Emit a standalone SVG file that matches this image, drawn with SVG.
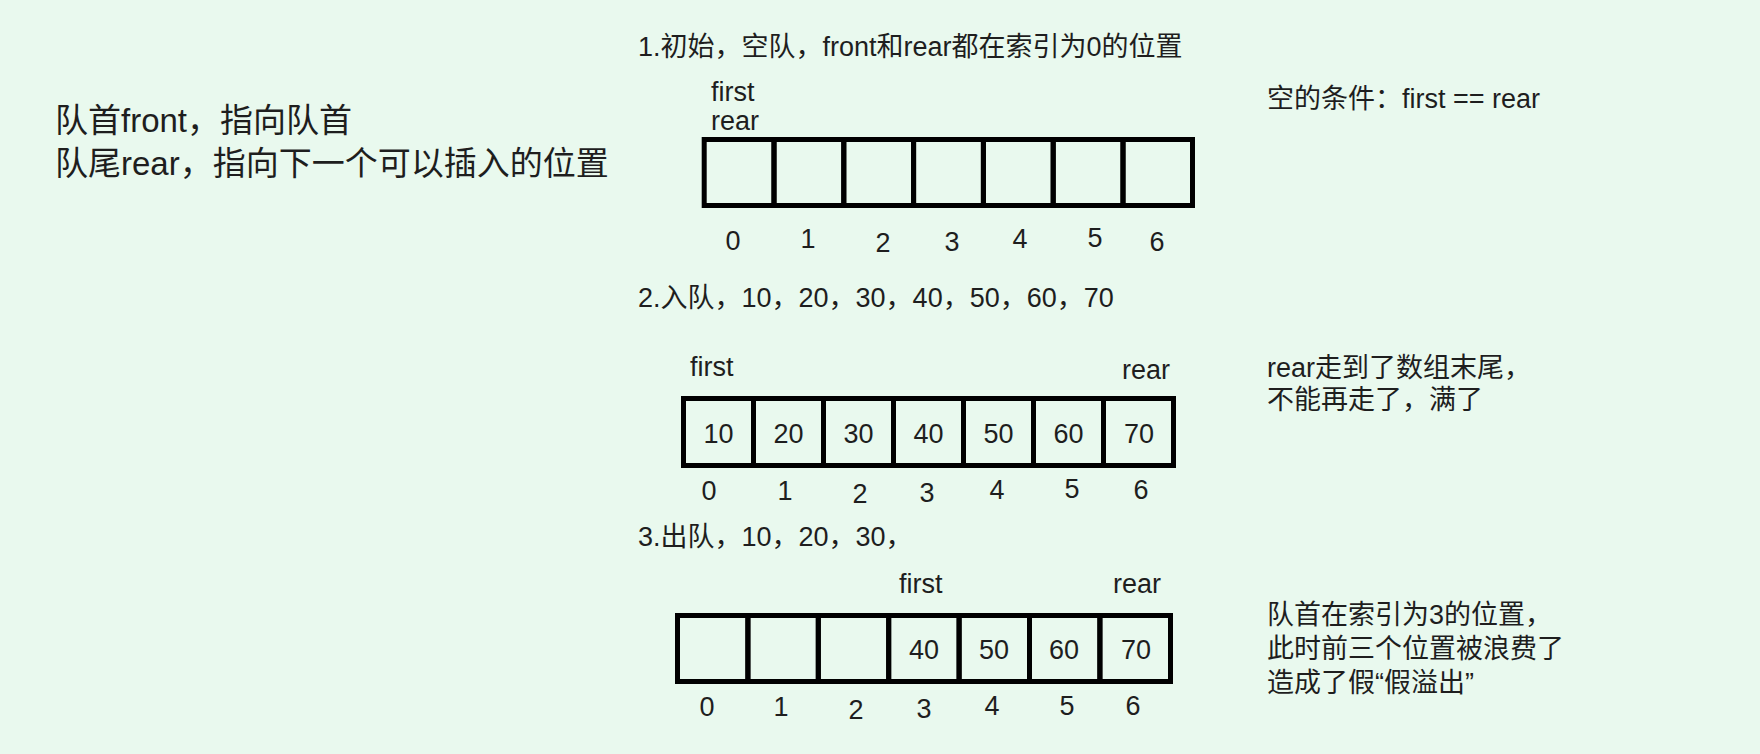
<svg xmlns="http://www.w3.org/2000/svg" width="1760" height="754" viewBox="0 0 1760 754">
<style>
text{font-family:"Liberation Sans","Noto Sans CJK SC",sans-serif;fill:#1e1e1e;font-size:27px}
.big{font-size:33px}
.mid{text-anchor:middle}
.cell{fill:none;stroke:#000;stroke-width:5;stroke-linejoin:miter}
</style>
<rect width="1760" height="754" fill="#e9f9ee"/>
<g id="intro">
<text class="big" x="55" y="132">队首front，指向队首</text>
<text class="big" x="55" y="175">队尾rear，指向下一个可以插入的位置</text>
</g>
<g id="step1">
<text x="638" y="56">1.初始，空队，front和rear都在索引为0的位置</text>
<text x="711" y="101">first</text>
<text x="711" y="130">rear</text>
<g id="queue1">
<rect class="cell" x="704.2" y="139.5" width="69.8" height="66"/>
<rect class="cell" x="774" y="139.5" width="69.8" height="66"/>
<rect class="cell" x="843.8" y="139.5" width="69.8" height="66"/>
<rect class="cell" x="913.6" y="139.5" width="69.8" height="66"/>
<rect class="cell" x="983.4" y="139.5" width="69.8" height="66"/>
<rect class="cell" x="1053.2" y="139.5" width="69.8" height="66"/>
<rect class="cell" x="1123" y="139.5" width="69.5" height="66"/>
</g>
<text class="mid" x="733" y="250">0</text>
<text class="mid" x="808" y="248">1</text>
<text class="mid" x="883" y="252">2</text>
<text class="mid" x="952" y="251">3</text>
<text class="mid" x="1020" y="248">4</text>
<text class="mid" x="1095" y="247">5</text>
<text class="mid" x="1157" y="251">6</text>
<text x="1267" y="108">空的条件：first == rear</text>
</g>
<g id="step2">
<text x="638" y="307">2.入队，10，20，30，40，50，60，70</text>
<text x="690" y="376">first</text>
<text x="1122" y="379">rear</text>
<g id="queue2">
<rect class="cell" x="683.5" y="398.5" width="70" height="67"/>
<rect class="cell" x="753.5" y="398.5" width="70" height="67"/>
<rect class="cell" x="823.5" y="398.5" width="70" height="67"/>
<rect class="cell" x="893.5" y="398.5" width="70" height="67"/>
<rect class="cell" x="963.5" y="398.5" width="70" height="67"/>
<rect class="cell" x="1033.5" y="398.5" width="70" height="67"/>
<rect class="cell" x="1103.5" y="398.5" width="70" height="67"/>
<text class="mid" x="718.5" y="443">10</text>
<text class="mid" x="788.5" y="443">20</text>
<text class="mid" x="858.5" y="443">30</text>
<text class="mid" x="928.5" y="443">40</text>
<text class="mid" x="998.5" y="443">50</text>
<text class="mid" x="1068.5" y="443">60</text>
<text class="mid" x="1139" y="443">70</text>
</g>
<text class="mid" x="709" y="500">0</text>
<text class="mid" x="785" y="500">1</text>
<text class="mid" x="860" y="503">2</text>
<text class="mid" x="927" y="502">3</text>
<text class="mid" x="997" y="499">4</text>
<text class="mid" x="1072" y="498">5</text>
<text class="mid" x="1141" y="499">6</text>
<text x="1267" y="377">rear走到了数组末尾，</text>
<text x="1267" y="409">不能再走了，满了</text>
</g>
<g id="step3">
<text x="638" y="546">3.出队，10，20，30，</text>
<text x="899" y="593">first</text>
<text x="1113" y="593">rear</text>
<g id="queue3">
<rect class="cell" x="677.5" y="615.5" width="70.4" height="66"/>
<rect class="cell" x="747.9" y="615.5" width="70.4" height="66"/>
<rect class="cell" x="818.3" y="615.5" width="70.4" height="66"/>
<rect class="cell" x="888.7" y="615.5" width="70.4" height="66"/>
<rect class="cell" x="959.1" y="615.5" width="70.4" height="66"/>
<rect class="cell" x="1029.5" y="615.5" width="70.4" height="66"/>
<rect class="cell" x="1099.9" y="615.5" width="70.6" height="66"/>
<text class="mid" x="924" y="659">40</text>
<text class="mid" x="994" y="659">50</text>
<text class="mid" x="1064" y="659">60</text>
<text class="mid" x="1136" y="659">70</text>
</g>
<text class="mid" x="707" y="716">0</text>
<text class="mid" x="781" y="716">1</text>
<text class="mid" x="856" y="719">2</text>
<text class="mid" x="924" y="718">3</text>
<text class="mid" x="992" y="715">4</text>
<text class="mid" x="1067" y="715">5</text>
<text class="mid" x="1133" y="715">6</text>
<text x="1267" y="624">队首在索引为3的位置，</text>
<text x="1267" y="658">此时前三个位置被浪费了</text>
<text x="1267" y="692">造成了假“假溢出”</text>
</g>
<g id="connectors"/>
</svg>
